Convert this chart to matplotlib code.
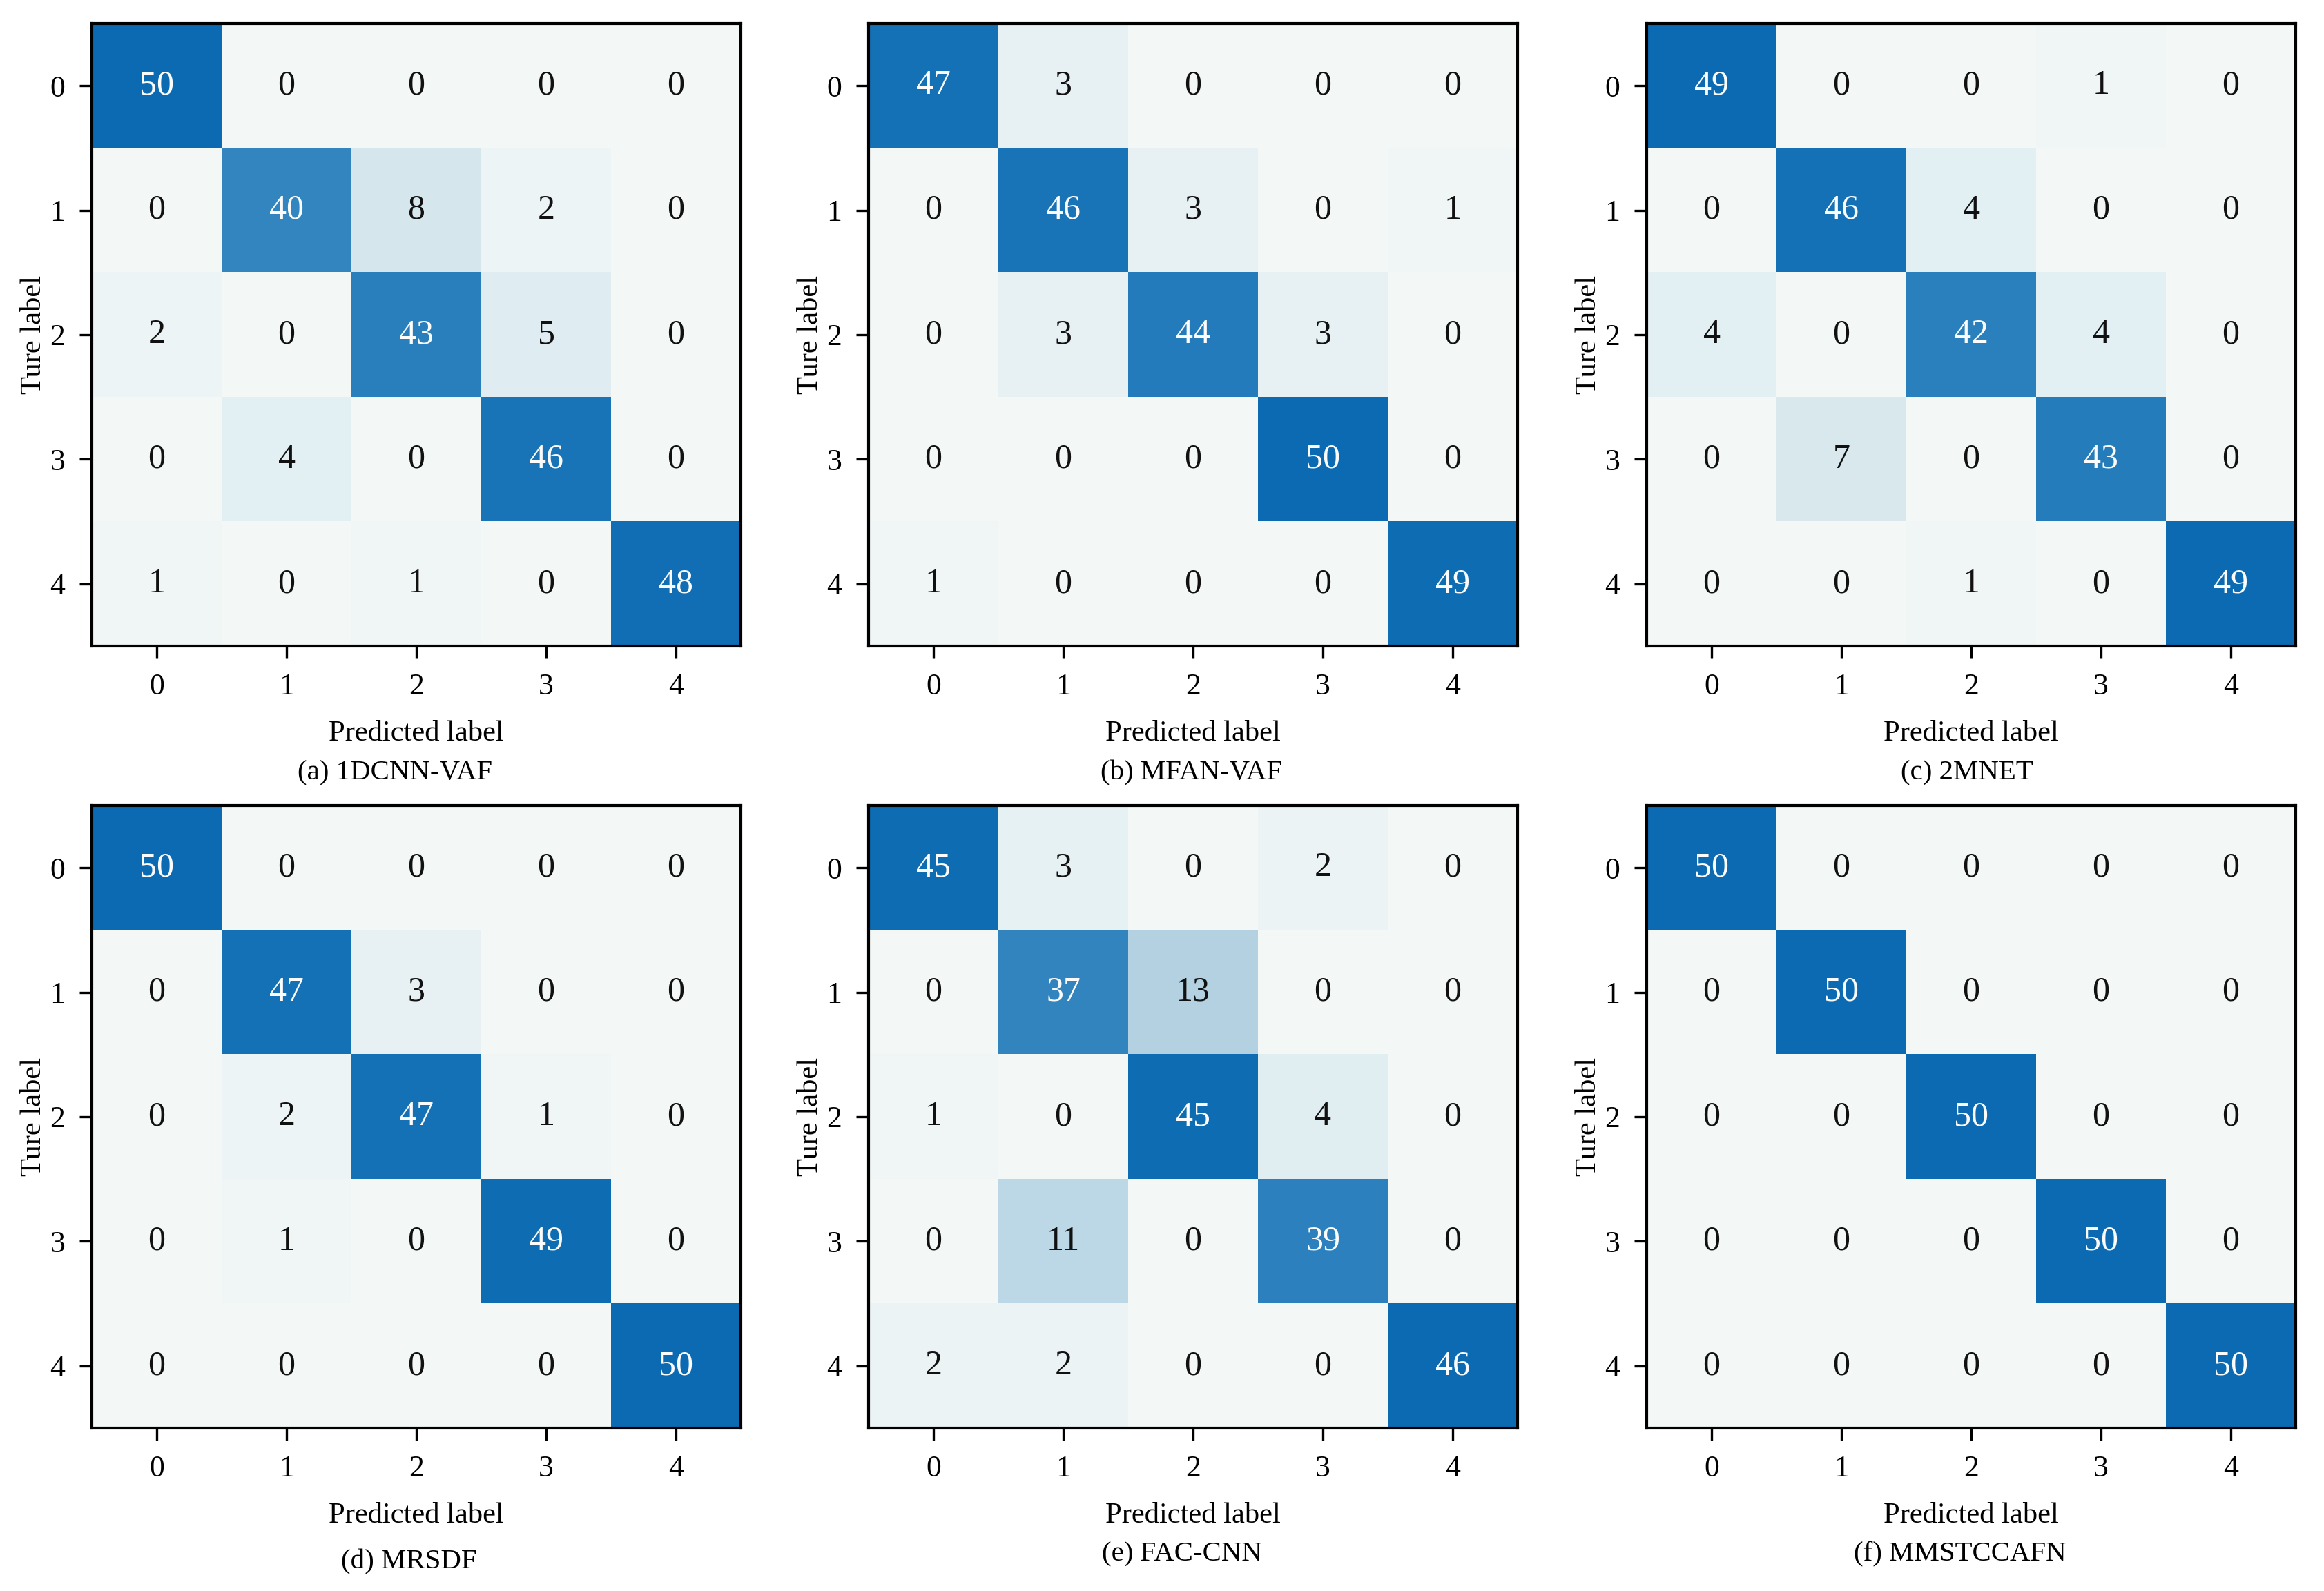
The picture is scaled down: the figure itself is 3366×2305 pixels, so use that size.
import numpy as np
import matplotlib
matplotlib.use("Agg")
import matplotlib.pyplot as plt
from matplotlib.colors import LinearSegmentedColormap

plt.rcParams['font.family'] = ['Liberation Serif', 'DejaVu Serif']

# confusion matrices (rows = true label, cols = predicted label)
cm_1dcnn_vaf = [[50, 0, 0, 0, 0],
                [0, 40, 8, 2, 0],
                [2, 0, 43, 5, 0],
                [0, 4, 0, 46, 0],
                [1, 0, 1, 0, 48]]
cm_mfan_vaf = [[47, 3, 0, 0, 0],
               [0, 46, 3, 0, 1],
               [0, 3, 44, 3, 0],
               [0, 0, 0, 50, 0],
               [1, 0, 0, 0, 49]]
cm_2mnet = [[49, 0, 0, 1, 0],
            [0, 46, 4, 0, 0],
            [4, 0, 42, 4, 0],
            [0, 7, 0, 43, 0],
            [0, 0, 1, 0, 49]]
cm_mrsdf = [[50, 0, 0, 0, 0],
            [0, 47, 3, 0, 0],
            [0, 2, 47, 1, 0],
            [0, 1, 0, 49, 0],
            [0, 0, 0, 0, 50]]
cm_fac_cnn = [[45, 3, 0, 2, 0],
              [0, 37, 13, 0, 0],
              [1, 0, 45, 4, 0],
              [0, 11, 0, 39, 0],
              [2, 2, 0, 0, 46]]
cm_mmstccafn = [[50, 0, 0, 0, 0],
                [0, 50, 0, 0, 0],
                [0, 0, 50, 0, 0],
                [0, 0, 0, 50, 0],
                [0, 0, 0, 0, 50]]

matrices = [cm_1dcnn_vaf, cm_mfan_vaf, cm_2mnet, cm_mrsdf, cm_fac_cnn, cm_mmstccafn]
captions = ['(a) 1DCNN-VAF', '(b) MFAN-VAF', '(c) 2MNET',
            '(d) MRSDF', '(e) FAC-CNN', '(f) MMSTCCAFN']
class_labels = ['0', '1', '2', '3', '4']

# blue map
cmap = LinearSegmentedColormap.from_list('cmblue', [
    (0.00, '#f3f8f6'),
    (0.04, '#ecf4f5'),
    (0.08, '#e2eff3'),
    (0.16, '#d5e6ec'),
    (0.24, '#bcd8e6'),
    (0.28, '#b5d2e2'),
    (0.50, '#72aad3'),
    (0.80, '#3385bf'),
    (0.86, '#2a80bd'),
    (0.92, '#1974b8'),
    (1.00, '#0b6ab2'),
])

W, H = 3366, 2305
fig = plt.figure(figsize=(W / 300, H / 300), dpi=300)

lefts = [133, 1258, 2385]
tops = [34, 1167]
aw, ah = 940, 902
# caption centres in pixels
cap_x = [572, 1725, 2849, 592, 1712, 2839]
cap_y = [1120, 1120, 1120, 2263, 2252, 2252]

for k, (mat, cap) in enumerate(zip(matrices, captions)):
    r, c = divmod(k, 3)
    x0 = lefts[c] / W
    y0 = 1 - (tops[r] + ah) / H
    ax = fig.add_axes([x0, y0, aw / W, ah / H])
    m = np.array(mat)
    vmin, vmax = m.min(), m.max()
    ax.imshow(m, cmap=cmap, vmin=vmin, vmax=vmax, aspect='auto', interpolation='nearest')
    thresh = (vmin + vmax) / 2
    for i in range(m.shape[0]):
        for j in range(m.shape[1]):
            v = m[i, j]
            ax.text(j, i, str(v), ha='center', va='center', fontsize=12,
                    color='#fbfbfb' if v > thresh else '#111111')
    ax.set_xticks(range(5))
    ax.set_yticks(range(5))
    ax.set_xticklabels(class_labels, fontsize=10.5)
    ax.set_yticklabels(class_labels, fontsize=10.5)
    ax.tick_params(length=4.3, width=0.8, pad=5)
    for s in ax.spines.values():
        s.set_linewidth(1.0)
    ax.set_xlabel('Predicted label', fontsize=10.2, labelpad=7)
    ax.set_ylabel('Ture label', fontsize=10.2, labelpad=1)
    fig.text(cap_x[k] / W, 1 - cap_y[k] / H, cap, ha='center', va='center',
             fontsize=9.8)

fig.savefig('out.png', dpi=300)
